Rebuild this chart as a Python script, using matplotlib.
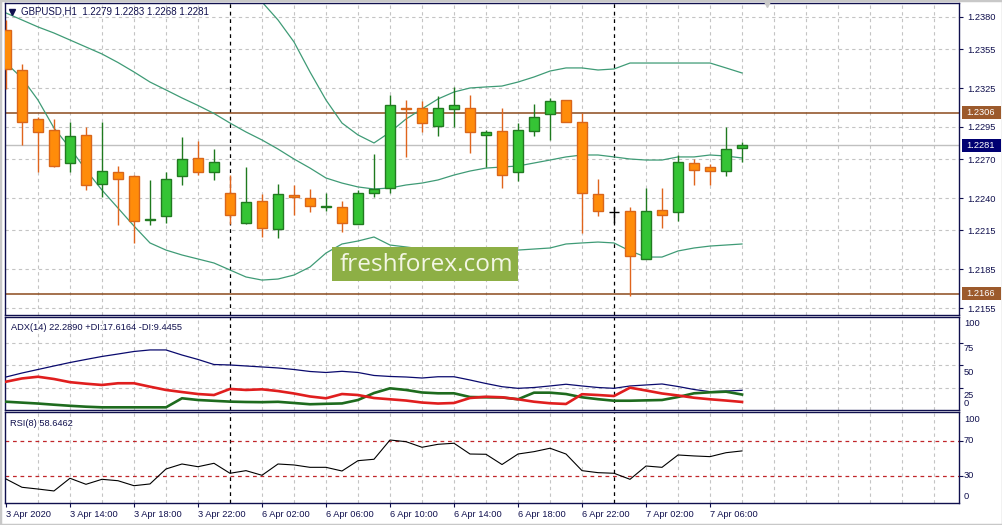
import numpy as np
import matplotlib.pyplot as plt
from matplotlib.patches import Rectangle
from matplotlib.lines import Line2D

plt.rcParams['font.family'] = ['Liberation Sans', 'DejaVu Sans']

# GBPUSD H1 bars, 3 Apr 2020 10:00 .. 7 Apr 2020 08:00
opens = [1.2370, 1.2339, 1.2301, 1.2293, 1.2267, 1.2289, 1.2251, 1.2260, 1.2257, 1.2223,
         1.2226, 1.2257, 1.2271, 1.2260, 1.2244, 1.2221, 1.2238, 1.2216, 1.2242, 1.2240,
         1.2233, 1.2233, 1.2220, 1.2244, 1.2248, 1.2310, 1.2310, 1.2296, 1.2309, 1.2310,
         1.2289, 1.2292, 1.2260, 1.2292, 1.2305, 1.2316, 1.2299, 1.2243, 1.2229, 1.2230,
         1.2193, 1.2231, 1.2229, 1.2267, 1.2264, 1.2261, 1.2279]
highs = [1.2378, 1.2344, 1.2303, 1.2301, 1.2299, 1.2295, 1.2299, 1.2265, 1.2258, 1.2254,
         1.2260, 1.2287, 1.2284, 1.2278, 1.2258, 1.2264, 1.2243, 1.2251, 1.2250, 1.2247,
         1.2244, 1.2238, 1.2246, 1.2274, 1.2320, 1.2316, 1.2315, 1.2319, 1.2326, 1.2320,
         1.2293, 1.2310, 1.2298, 1.2313, 1.2317, 1.2316, 1.2306, 1.2255, 1.2233, 1.2233,
         1.2248, 1.2248, 1.2273, 1.2270, 1.2266, 1.2295, 1.2283]
lows = [1.2324, 1.2281, 1.2260, 1.2264, 1.2260, 1.2246, 1.2241, 1.2219, 1.2205, 1.2219,
        1.2221, 1.2250, 1.2258, 1.2254, 1.2220, 1.2220, 1.2210, 1.2209, 1.2227, 1.2229,
        1.2230, 1.2214, 1.2220, 1.2241, 1.2244, 1.2272, 1.2291, 1.2288, 1.2295, 1.2275,
        1.2264, 1.2248, 1.2253, 1.2288, 1.2285, 1.2299, 1.2213, 1.2226, 1.2221, 1.2164,
        1.2193, 1.2217, 1.2222, 1.2250, 1.2250, 1.2257, 1.2268]
closes = [1.2340, 1.2299, 1.2291, 1.2265, 1.2288, 1.2250, 1.2261, 1.2255, 1.2222, 1.2224,
          1.2255, 1.2270, 1.2260, 1.2268, 1.2227, 1.2237, 1.2217, 1.2243, 1.2241, 1.2234,
          1.2234, 1.2221, 1.2244, 1.2247, 1.2312, 1.2309, 1.2298, 1.2310, 1.2312, 1.2291,
          1.2291, 1.2258, 1.2293, 1.2303, 1.2315, 1.2299, 1.2244, 1.2230, 1.2229, 1.2195,
          1.2230, 1.2227, 1.2268, 1.2262, 1.2261, 1.2278, 1.2281]

# Bollinger bands
bb_mid = [1.23831, 1.23777, 1.23723, 1.23676, 1.23622, 1.23568, 1.23514, 1.23448, 1.23375, 1.23297,
          1.23236, 1.23174, 1.23116, 1.23054, 1.22980, 1.22911, 1.22849, 1.22779, 1.22702, 1.22632,
          1.22555, 1.22516, 1.22486, 1.22470, 1.22478, 1.22501, 1.22516, 1.22540, 1.22578, 1.22609,
          1.22632, 1.22640, 1.22648, 1.22671, 1.22694, 1.22718, 1.22733, 1.22733, 1.22718, 1.22702,
          1.22694, 1.22694, 1.22718, 1.22718, 1.22733, 1.22725, 1.22710]
bb_upper = [np.nan] * 16 + [
          1.23916, 1.23777, 1.23607, 1.23375,
          1.23158, 1.22980, 1.22888, 1.22826, 1.22909, 1.23011, 1.23089, 1.23166, 1.23220, 1.23251,
          1.23259, 1.23266, 1.23297, 1.23336, 1.23382, 1.23406, 1.23406, 1.23390, 1.23398, 1.23444,
          1.23444, 1.23444, 1.23444, 1.23444, 1.23444, 1.23406, 1.23367]
bb_lower = [1.23444, 1.23328, 1.23158, 1.22942, 1.22787, 1.22617, 1.22462, 1.22323, 1.22184, 1.22053,
            1.21998, 1.21960, 1.21929, 1.21898, 1.21844, 1.21790, 1.21766, 1.21774, 1.21805, 1.21867,
            1.21975, 1.22045, 1.22068, 1.22099, 1.22037, 1.22022, 1.22006, 1.21998, 1.21998, 1.21991,
            1.21998, 1.21998, 1.21998, 1.22006, 1.22014, 1.22045, 1.22053, 1.22060, 1.22053, 1.21991,
            1.21944, 1.21944, 1.21991, 1.22014, 1.22029, 1.22037, 1.22045]

adx = [37.0, 41.4, 45.3, 49.2, 53.0, 56.4, 59.7, 62.4, 65.2, 66.9,
       66.9, 61.3, 56.4, 50.8, 50.3, 49.2, 48.1, 47.0, 45.3, 43.1,
       42.0, 43.3, 42.0, 38.7, 37.6, 37.0, 35.9, 37.3, 37.3, 33.7,
       29.8, 26.3, 24.5, 25.4, 27.1, 29.0, 27.1, 25.4, 24.5, 27.1,
       28.2, 29.3, 26.5, 23.2, 20.8, 21.5, 22.289]
plus_di = [9.7, 8.7, 7.7, 6.4, 5.2, 4.2, 3.5, 3.5, 3.5, 3.5,
           3.5, 13.5, 11.6, 10.7, 9.8, 9.4, 9.2, 9.6, 8.3, 6.9,
           7.4, 7.8, 11.6, 19.3, 24.5, 22.7, 19.9, 19.0, 19.0, 14.9,
           14.6, 14.4, 12.4, 19.7, 19.7, 18.2, 14.6, 12.5, 10.8, 10.8,
           11.2, 11.6, 14.9, 19.0, 20.1, 20.8, 17.616]
minus_di = [31.8, 35.4, 37.3, 34.8, 31.3, 29.6, 28.2, 30.1, 30.1, 26.3,
            22.7, 20.4, 18.2, 17.1, 23.8, 22.7, 23.4, 21.5, 18.8, 15.5,
            13.5, 18.2, 17.1, 13.8, 12.4, 11.0, 8.8, 7.7, 8.3, 13.8,
            15.2, 14.6, 12.4, 9.7, 8.0, 7.2, 18.0, 17.1, 16.0, 25.2,
            22.1, 18.8, 16.6, 14.1, 12.4, 11.0, 9.4455]
rsi = [26.6, 17.1, 15.1, 12.9, 27.4, 20.5, 26.2, 24.6, 18.9, 20.9,
       38.0, 43.7, 40.6, 44.5, 33.1, 36.1, 30.8, 43.7, 42.6, 39.9,
       39.9, 35.7, 47.5, 49.1, 71.1, 69.2, 62.8, 66.2, 67.4, 55.1,
       54.8, 43.1, 55.1, 57.8, 61.7, 55.1, 36.1, 33.8, 33.1, 26.2,
       41.4, 39.9, 54.0, 52.9, 52.1, 56.6, 58.6462]

time_labels = ['3 Apr 2020', '3 Apr 14:00', '3 Apr 18:00', '3 Apr 22:00', '6 Apr 02:00',
               '6 Apr 06:00', '6 Apr 10:00', '6 Apr 14:00', '6 Apr 18:00', '6 Apr 22:00',
               '7 Apr 02:00', '7 Apr 06:00']
day_starts = [14, 38]
price_ticks = [1.2380, 1.2355, 1.2325, 1.2295, 1.2270, 1.2240, 1.2215, 1.2185, 1.2155]
resistance, support, bid = 1.2306, 1.2166, 1.2281

NAVY = '#10104e'
GRID = '#c4c4c4'
FS = 6.7

W, H = 1003, 525
fig = plt.figure(figsize=(W / 100, H / 100), dpi=100)


def panel(l, t, r, b):
    return fig.add_axes([l / W, 1 - b / H, (r - l) / W, (b - t) / H])


ax = panel(5, 3, 959, 315)
ax_adx = panel(5, 317, 959, 410)
ax_rsi = panel(5, 412, 959, 503)

o, h, l, c = map(np.array, (opens, highs, lows, closes))
x = np.arange(len(c))

for a in (ax, ax_adx, ax_rsi):
    a.set_xlim(-0.06, 59.56)
    for s in a.spines.values():
        s.set_color(NAVY)
        s.set_linewidth(1.0)
    a.yaxis.tick_right()
    a.tick_params(axis='y', direction='out', length=3, width=0.8, colors=NAVY,
                  labelsize=FS, pad=3)
    a.tick_params(axis='x', bottom=False, labelbottom=False)
    for g in range(2, 60, 2):
        if g not in day_starts:
            a.axvline(g, color=GRID, lw=0.8, ls=(0, (3, 3)), zorder=0)
    for d in day_starts:
        a.axvline(d, color='black', lw=0.9, ls=(0, (3, 3)), zorder=1)

# ---- main price panel
ax.set_ylim(1.21496, 1.23908)
ax.set_yticks(price_ticks)
ax.set_yticklabels([f'{p:.4f}' for p in price_ticks])
for p in price_ticks:
    ax.axhline(p, color=GRID, lw=0.8, ls=(0, (3, 3)), zorder=0)
ax.axhline(bid, color='#c0c0c0', lw=1.0, zorder=0.5)
ax.axhline(resistance, color='#8b4a1c', lw=1.1, zorder=1)
ax.axhline(support, color='#8b4a1c', lw=1.1, zorder=1)

band_col = '#3f9b76'
ax.plot(x, bb_mid, color=band_col, lw=0.9, zorder=2)
ax.plot(x, bb_upper, color=band_col, lw=0.9, zorder=2)
ax.plot(x, bb_lower, color=band_col, lw=0.9, zorder=2)

up = c > o
dn = c < o
flat = c == o
wick_cols = np.where(up, '#1f7a1f', np.where(dn, '#e0641c', 'black'))
ax.vlines(x, l, h, colors=wick_cols, lw=1.0, zorder=3)
bw = 0.66
ax.bar(x[up], (c - o)[up], bottom=o[up], width=bw, color='#35c435',
       edgecolor='#217a21', lw=1.0, zorder=4)
ax.bar(x[dn], (o - c)[dn], bottom=c[dn], width=bw, color='#ff8c0a',
       edgecolor='#d9661a', lw=1.0, zorder=4)
ax.hlines(c[flat], x[flat] - bw / 2, x[flat] + bw / 2, colors='black', lw=1.0, zorder=4)

# price boxes on the right axis
ppx = (1.23908 - 1.21496) / 312
for val, col in ((resistance, '#9c5a2c'), (support, '#9c5a2c'), (bid, '#000072')):
    ax.add_patch(Rectangle((1 + 3 / 954, val - 6.5 * ppx), 39 / 954, 13 * ppx,
                           transform=ax.get_yaxis_transform(), facecolor=col,
                           edgecolor='none', clip_on=False, zorder=5))
    ax.text(1 + 7 / 954, val, f'{val:.4f}', transform=ax.get_yaxis_transform(),
            ha='left', va='center', color='white', fontsize=FS, zorder=6, clip_on=False)

# chart shift marker
ax.plot([len(c) + 0.56], [1.0], transform=ax.get_xaxis_transform(), marker='v',
        ms=6, color='#c8c8c8', clip_on=False, zorder=6)

# ---- ADX panel
ax_adx.set_ylim(0.55, 103.3)
ax_adx.set_yticks([75, 50, 25])
ax_adx.set_yticklabels([])
for v in (75, 50, 25):
    ax_adx.axhline(v, color=GRID, lw=0.8, ls=(0, (3, 3)), zorder=0)
for lbl, v in (('100', 95.6), ('75', 68.0), ('50', 42.5), ('25', 17.1), ('0', 7.2)):
    ax_adx.text(1 + 5 / 954, v, lbl, transform=ax_adx.get_yaxis_transform(),
                ha='left', va='center', color=NAVY, fontsize=FS, clip_on=False)
ax_adx.plot(x, adx, color='#0a0a6e', lw=0.9, zorder=3)
ax_adx.plot(x, plus_di, color='#1e6b1e', lw=1.9, zorder=3)
ax_adx.plot(x, minus_di, color='#e01e1e', lw=1.9, zorder=3)

# ---- RSI panel
ax_rsi.set_ylim(-0.86, 103.1)
ax_rsi.set_yticks([70, 30])
ax_rsi.set_yticklabels([])
for lbl, v in (('100', 94.0), ('70', 70), ('30', 30), ('0', 6.0)):
    ax_rsi.text(1 + 5 / 954, v, lbl, transform=ax_rsi.get_yaxis_transform(),
                ha='left', va='center', color=NAVY, fontsize=FS, clip_on=False)
for v in (70, 30):
    ax_rsi.axhline(v, color='#c0262a', lw=0.9, ls=(0, (3, 3)), zorder=1)
ax_rsi.plot(x, rsi, color='black', lw=0.8, zorder=3)

ax_rsi.tick_params(axis='x', bottom=True, labelbottom=True, direction='out', length=3,
                   width=0.8, colors=NAVY, labelsize=FS, pad=2)
ax_rsi.set_xticks(np.arange(0, len(time_labels) * 4, 4))
ax_rsi.set_xticklabels(time_labels)
for t in ax_rsi.get_xticklabels():
    t.set_ha('left')

# ---- header texts
fig.add_artist(Line2D([12.5 / W], [1 - 11.5 / H], marker='v', ms=4.5, color=NAVY,
                      transform=fig.transFigure))
fig.text(21 / W, 1 - 12 / H, 'GBPUSD,H1  1.2279 1.2283 1.2268 1.2281',
         ha='left', va='center', color=NAVY, fontsize=FS + 0.3)
fig.text(11 / W, 1 - 327 / H, 'ADX(14) 22.2890 +DI:17.6164 -DI:9.4455',
         ha='left', va='center', color=NAVY, fontsize=FS)
fig.text(10 / W, 1 - 423 / H, 'RSI(8) 58.6462',
         ha='left', va='center', color=NAVY, fontsize=FS)

# watermark
fig.add_artist(Rectangle((332 / W, 1 - 281 / H), 186 / W, 34 / H,
                         transform=fig.transFigure, facecolor='#8daf45',
                         edgecolor='none', zorder=5))
fig.text(426 / W, 1 - 265 / H, 'freshforex.com', ha='center', va='center',
         fontsize=17.6, color='#f3f6e4', family='Open Sans', zorder=6)

# window frame
fig.add_artist(Rectangle((0, 0), 1, 1, transform=fig.transFigure, fill=False,
                         edgecolor='#c8c8c8', lw=2.5, zorder=7))

fig.savefig('out.png', dpi=100)
